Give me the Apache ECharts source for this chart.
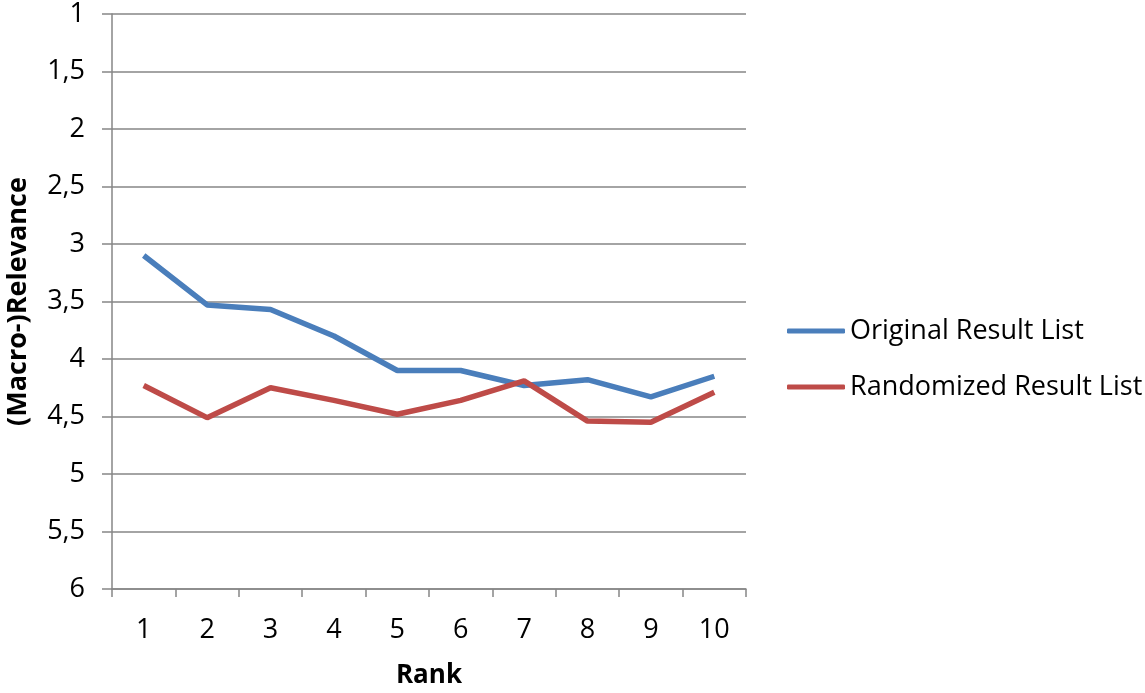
<!DOCTYPE html>
<html><head><meta charset="utf-8">
<script src="https://cdn.jsdelivr.net/npm/echarts@6/dist/echarts.min.js"></script>
<style>html,body{margin:0;padding:0;background:#fff}#c{width:1145px;height:693px}</style>
</head><body><div id="c"></div>
<script>
const ranks = ['1','2','3','4','5','6','7','8','9','10'];
const originalList = [3.10, 3.53, 3.57, 3.80, 4.10, 4.10, 4.23, 4.18, 4.33, 4.15];
const randomizedList = [4.23, 4.51, 4.25, 4.36, 4.48, 4.36, 4.19, 4.54, 4.55, 4.29];
const seriesNames = ['Original Result List', 'Randomized Result List'];
const yTitle = '(Macro-)Relevance';
const xTitle = 'Rank';

const font = '"Open Sans", sans-serif';
const chart = echarts.init(document.getElementById('c'), null, {renderer: 'canvas'});
chart.setOption({
  animation: false,
  backgroundColor: '#fff',
  grid: {left: 112, right: 399, top: 14, bottom: 104, containLabel: false, outerBoundsMode: 'none'},
  legend: {
    orient: 'vertical', left: 782, top: 309,
    itemWidth: 58, itemHeight: 5, itemGap: 22, icon: 'roundRect',
    textStyle: {fontFamily: font, fontSize: 27, color: '#000', lineHeight: 34},
    data: seriesNames
  },
  xAxis: {
    type: 'category', data: ranks, boundaryGap: true,
    name: xTitle, nameLocation: 'middle', nameGap: 74,
    nameTextStyle: {fontFamily: font, fontWeight: 'bold', fontSize: 26, color: '#000'},
    axisLine: {lineStyle: {color: '#868686', width: 1.5}},
    axisTick: {show: true, alignWithLabel: false, length: 8, lineStyle: {color: '#868686', width: 1.5}},
    axisLabel: {fontFamily: font, fontSize: 27, color: '#000', margin: 28},
    splitLine: {show: false}
  },
  yAxis: {
    type: 'value', inverse: true, min: 1, max: 6, interval: 0.5,
    name: yTitle, nameLocation: 'middle', nameGap: 80, nameRotate: 90,
    nameTextStyle: {fontFamily: font, fontWeight: 'bold', fontSize: 27, color: '#000'},
    axisLine: {show: true, lineStyle: {color: '#868686', width: 1.5}},
    axisTick: {show: true, length: 10, lineStyle: {color: '#868686', width: 1.5}},
    axisLabel: {fontFamily: font, fontSize: 27, color: '#000', margin: 27,
      formatter: v => String(v).replace('.', ',')},
    splitLine: {show: true, lineStyle: {color: '#868686', width: 1.5}}
  },
  series: [
    {name: seriesNames[0], type: 'line', data: originalList, symbol: 'none',
     lineStyle: {color: '#4A7EBB', width: 5.5}, itemStyle: {color: '#4A7EBB'}},
    {name: seriesNames[1], type: 'line', data: randomizedList, symbol: 'none',
     lineStyle: {color: '#BE4B48', width: 5.5}, itemStyle: {color: '#BE4B48'}}
  ]
});
</script></body></html>
